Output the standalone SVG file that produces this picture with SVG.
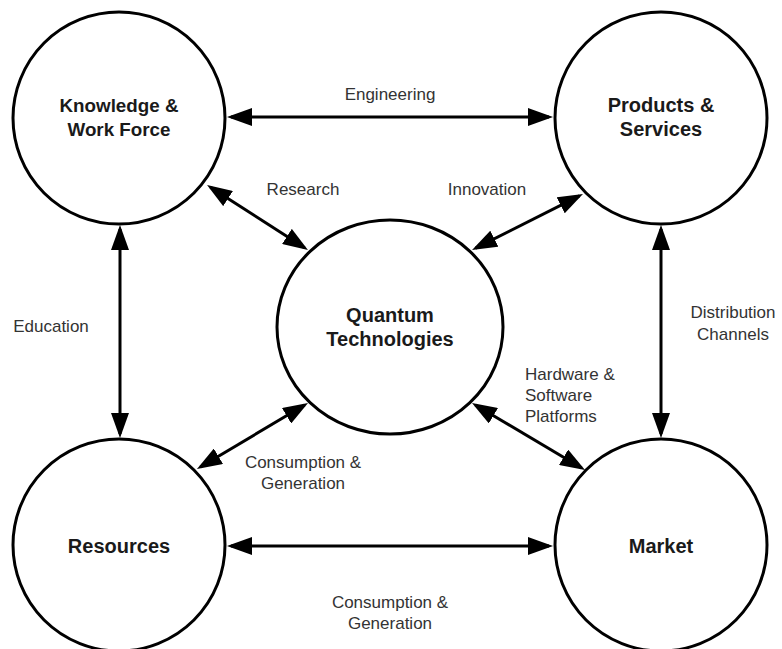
<svg xmlns="http://www.w3.org/2000/svg" width="782" height="649" viewBox="0 0 782 649">
<defs>
<marker id="ah" markerUnits="userSpaceOnUse" markerWidth="26" markerHeight="18" refX="21" refY="9" orient="auto-start-reverse" viewBox="0 0 26 18">
<path d="M0,0 L25,9 L0,18 z" fill="#000"/>
</marker>
<style>
.node{fill:#fff;stroke:#000;stroke-width:3}
.title{font-family:"Liberation Sans",Arial,sans-serif;font-weight:bold;font-size:20px;fill:#1a1a1a;text-anchor:middle}
.small{font-size:18.8px}
.lbl{font-family:"Liberation Sans",Arial,sans-serif;font-size:17px;fill:#333}
.c{text-anchor:middle}
.edge{stroke:#000;stroke-width:3;fill:none;marker-start:url(#ah);marker-end:url(#ah)}
</style>
</defs>
<rect width="782" height="649" fill="#fff"/>
<g id="connectors">
<line class="edge" x1="231" y1="117" x2="549" y2="117"/>
<line class="edge" x1="231" y1="546" x2="549" y2="546"/>
<line class="edge" x1="120" y1="229" x2="120" y2="434"/>
<line class="edge" x1="661" y1="229" x2="661" y2="434"/>
<line class="edge" x1="210.4" y1="187.2" x2="304.6" y2="247.8"/>
<line class="edge" x1="579.4" y1="195.8" x2="475.6" y2="248.2"/>
<line class="edge" x1="475.4" y1="405" x2="581.6" y2="468"/>
<line class="edge" x1="304.6" y1="405" x2="200.4" y2="467"/>
</g>
<g id="edge-labels">
<text class="lbl c" x="390" y="100">Engineering</text>
<text class="lbl c" x="303" y="195">Research</text>
<text class="lbl c" x="487" y="195">Innovation</text>
<text class="lbl c" x="51" y="332">Education</text>
<text class="lbl c" x="733" y="318">Distribution</text>
<text class="lbl c" x="733" y="340">Channels</text>
<text class="lbl" x="525" y="380">Hardware &amp;</text>
<text class="lbl" x="525" y="401">Software</text>
<text class="lbl" x="525" y="422">Platforms</text>
<text class="lbl c" x="303" y="468">Consumption &amp;</text>
<text class="lbl c" x="303" y="489">Generation</text>
<text class="lbl c" x="390" y="608">Consumption &amp;</text>
<text class="lbl c" x="390" y="629">Generation</text>
</g>
<g id="knowledge">
<circle class="node" cx="119" cy="118" r="106"/>
<text class="title small" x="119" y="112">Knowledge &amp;</text>
<text class="title small" x="119" y="136">Work Force</text>
</g>
<g id="products">
<circle class="node" cx="661" cy="118" r="106"/>
<text class="title" x="661" y="112">Products &amp;</text>
<text class="title" x="661" y="136">Services</text>
</g>
<g id="quantum">
<ellipse class="node" cx="390" cy="327" rx="113" ry="107"/>
<text class="title" x="390" y="322">Quantum</text>
<text class="title" x="390" y="346">Technologies</text>
</g>
<g id="resources">
<circle class="node" cx="119" cy="545" r="106"/>
<text class="title" x="119" y="553">Resources</text>
</g>
<g id="market">
<circle class="node" cx="661" cy="545" r="106"/>
<text class="title" x="661" y="553">Market</text>
</g>
</svg>
